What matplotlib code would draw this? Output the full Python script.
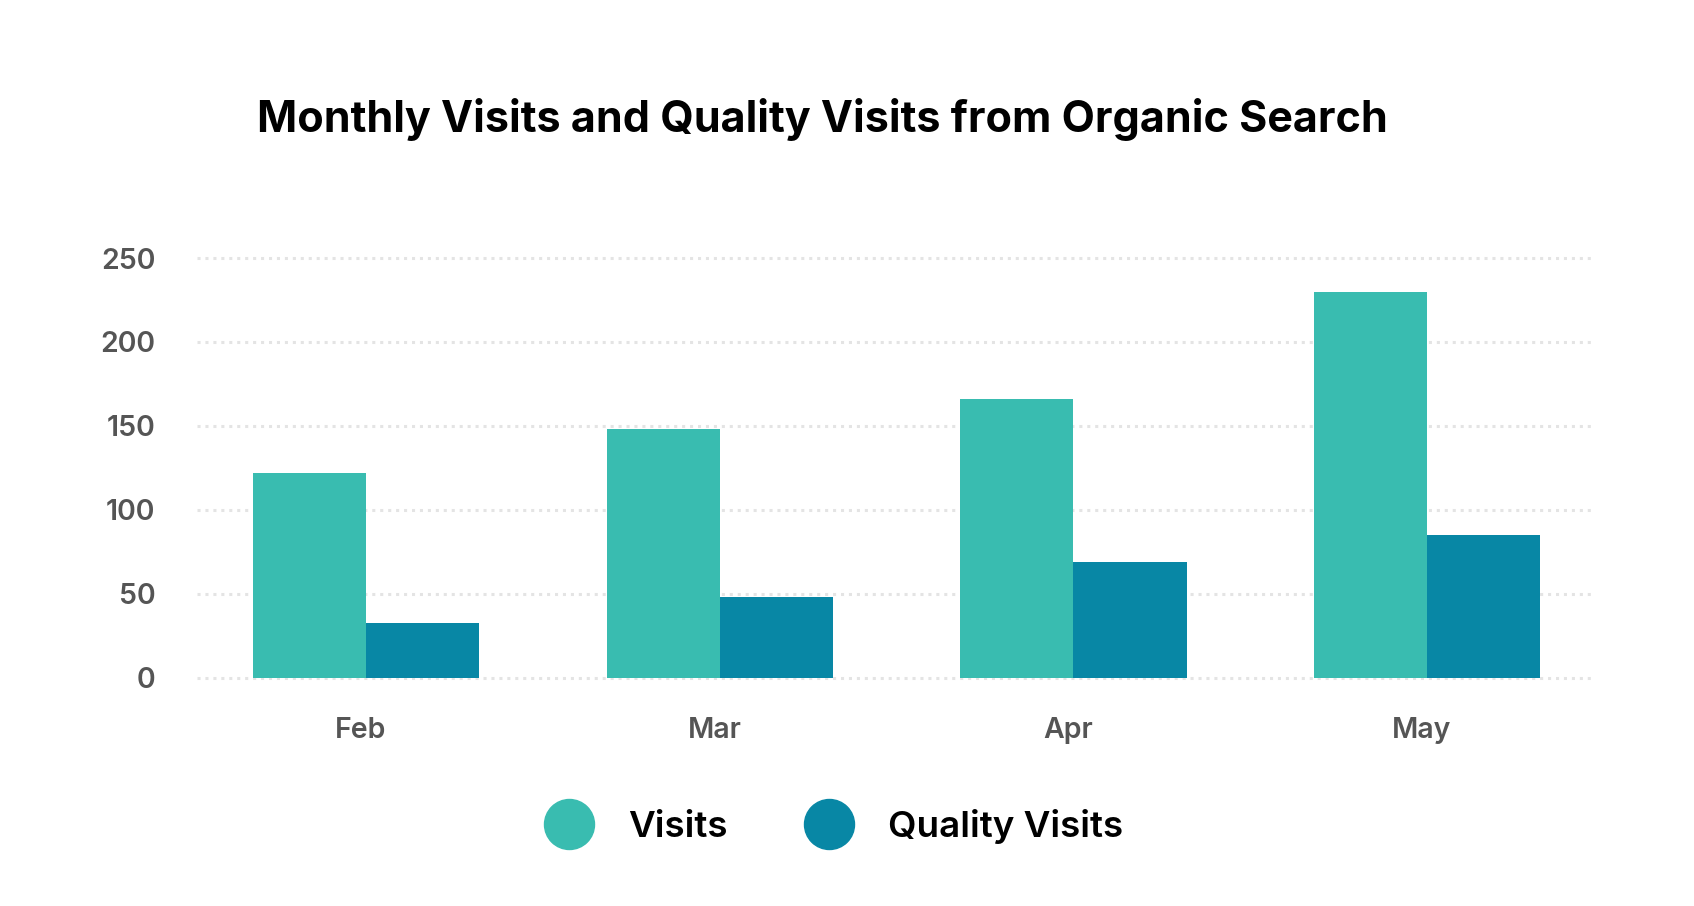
import matplotlib
matplotlib.use("Agg")
import matplotlib.pyplot as plt
from matplotlib.lines import Line2D
import numpy as np

months = ["Feb", "Mar", "Apr", "May"]
visits = [122, 148, 166, 230]
quality_visits = [33, 48, 69, 85]
yticks = [0, 50, 100, 150, 200, 250]

c_visits = "#39bcb0"
c_quality = "#0887a5"

plt.rcParams["font.family"] = ["Inter", "DejaVu Sans"]

fig = plt.figure(figsize=(16.94, 9.06), dpi=100)
ax = fig.add_axes([0.1163, 0.2424, 0.8235, 0.4821])

x = np.arange(len(months))
w = 0.32
ax.bar(x - w / 2, visits, w, color=c_visits, zorder=3)
ax.bar(x + w / 2, quality_visits, w, color=c_quality, zorder=3)

ax.set_xlim(-0.478, 3.466)
ax.set_ylim(-5, 255)
ax.set_yticks(yticks)
ax.set_yticklabels([str(v) for v in yticks])
ax.set_xticks(x - 0.015)
ax.set_xticklabels(months)

# dotted light grid
for v in yticks:
    ax.axhline(v, color="#e4e4e4", lw=2.2, linestyle=(0, (1, 1.6)), zorder=1)

for s in ax.spines.values():
    s.set_visible(False)
ax.tick_params(axis="both", length=0, labelsize=20.5, labelcolor="#555555")
ax.tick_params(axis="y", pad=30)
ax.tick_params(axis="x", pad=22)
for lab in ax.get_xticklabels() + ax.get_yticklabels():
    lab.set_fontweight("semibold")

fig.text(0.4855, 0.868, "Monthly Visits and Quality Visits from Organic Search",
         ha="center", va="center", fontsize=31, fontweight="bold", color="#000000")

handles = [Line2D([], [], marker="o", ls="", color=c_visits, markersize=36),
           Line2D([], [], marker="o", ls="", color=c_quality, markersize=36)]
fig.legend(handles, ["Visits", "Quality Visits"], loc="center",
           bbox_to_anchor=(0.4885, 0.088), ncol=2, frameon=False,
           prop={"size": 26.5, "weight": "semibold"}, handletextpad=0.6,
           columnspacing=1.76)

fig.savefig("out.png", dpi=100, facecolor="white")
